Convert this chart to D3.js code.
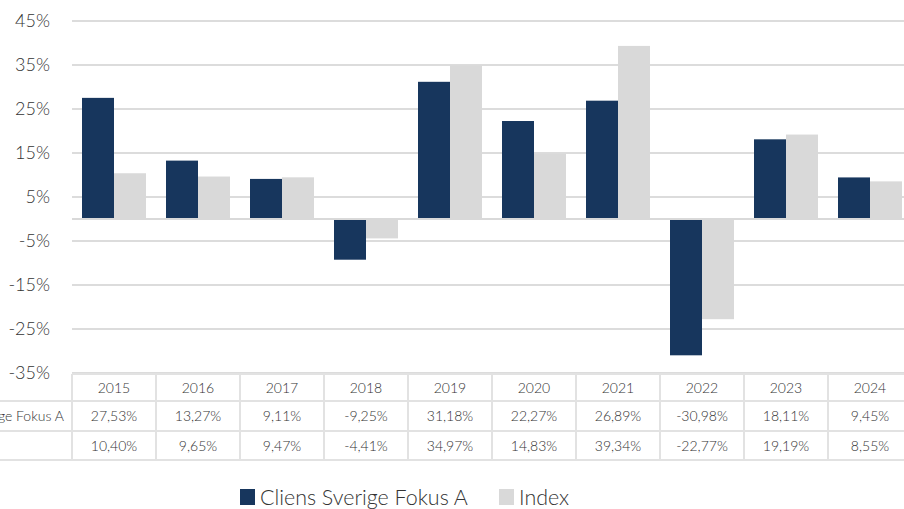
<!DOCTYPE html>
<html><head><meta charset="utf-8">
<script src="https://cdn.jsdelivr.net/npm/d3@7"></script>
<style>
html,body{margin:0;padding:0;background:#fff;overflow:hidden}
svg{display:block;font-family:Lato,"Noto Sans",sans-serif;font-weight:300}
</style></head><body>
<svg id="c" width="904" height="509"></svg>
<script>
const years = ["2015","2016","2017","2018","2019","2020","2021","2022","2023","2024"];
const seriesNames = ["Cliens Sverige Fokus A","Index"];
const fund = [27.53,13.27,9.11,-9.25,31.18,22.27,26.89,-30.98,18.11,9.45];
const index = [10.40,9.65,9.47,-4.41,34.97,14.83,39.34,-22.77,19.19,8.55];
const tickValues = [-35,-25,-15,-5,5,15,25,35,45];
const colors = ["#17365d","#d9d9d9"];

const svg = d3.select("#c");
const textCol = "#333333";
const y = d3.scaleLinear().domain([-35,45]).range([373,21]);
const x = d3.scaleBand().domain(years).range([72,912]).paddingInner(0).paddingOuter(0);
const x1 = d3.scaleBand().domain(seriesNames).range([0,x.bandwidth()]).paddingInner(0).paddingOuter(0.3125);
const fmt = v => d3.format(".2f")(v).replace(".",",").replace("\u2212","-") + "%";

// gridlines
svg.append("g").selectAll("line").data(tickValues).join("line")
  .attr("x1",72).attr("x2",904).attr("y1",d=>y(d)).attr("y2",d=>y(d))
  .attr("stroke","#d0d0d0").attr("stroke-width",1.3);

// y labels
svg.append("g").selectAll("text").data(tickValues).join("text")
  .attr("x",50).attr("y",d=>y(d)).attr("dy","0.36em").attr("text-anchor","end")
  .attr("font-size",18).attr("fill",textCol).text(d=>d+"%");

// bars
const data = [fund,index];
data.forEach((vals,si)=>{
  svg.append("g").selectAll("rect").data(vals).join("rect")
    .attr("x",(d,i)=>x(years[i])+x1(seriesNames[si]))
    .attr("width",x1.bandwidth())
    .attr("y",d=>Math.min(y(d),y(0)))
    .attr("height",d=>Math.abs(y(d)-y(0)))
    .attr("fill",colors[si]);
});

// zero axis
svg.append("line").attr("x1",72).attr("x2",904).attr("y1",y(0)).attr("y2",y(0))
  .attr("stroke","#d9d9d9").attr("stroke-width",2);

// table
const rowY = [374,401,431,460];
const tg = svg.append("g");
const lc = "#e2e2e2";
tg.append("line").attr("x1",72).attr("x2",904).attr("y1",rowY[0]).attr("y2",rowY[0]).attr("stroke",lc).attr("stroke-width",2);
[1,2,3].forEach(r=>tg.append("line").attr("x1",0).attr("x2",904).attr("y1",rowY[r]).attr("y2",rowY[r]).attr("stroke",lc).attr("stroke-width",2));
years.forEach(yr=>{
  tg.append("line").attr("x1",x(yr)).attr("x2",x(yr)).attr("y1",rowY[0]).attr("y2",rowY[3]).attr("stroke",lc).attr("stroke-width",2);
});
tg.selectAll("text.h").data(years).join("text").attr("class","h")
  .attr("x",d=>x(d)+x.bandwidth()/2).attr("y",(rowY[0]+rowY[1])/2).attr("dy","0.36em")
  .attr("text-anchor","middle").attr("font-size",14).attr("fill",textCol).text(d=>d);
data.forEach((vals,si)=>{
  const cy = (rowY[si+1]+rowY[si+2])/2;
  tg.append("g").selectAll("text").data(vals).join("text")
    .attr("x",(d,i)=>x(years[i])+x.bandwidth()/2).attr("y",cy).attr("dy","0.36em")
    .attr("text-anchor","middle").attr("font-size",14).attr("fill",textCol).text(d=>fmt(d));
});
// row labels (left column, cut off at the left edge as in the reference)
const lbl1 = tg.append("text").attr("x",64).attr("y",(rowY[1]+rowY[2])/2).attr("dy","0.36em")
  .attr("text-anchor","end").attr("font-size",14).attr("fill",textCol).text(seriesNames[0]);
const startX = 64 - lbl1.node().getComputedTextLength();
tg.append("text").attr("x",startX).attr("y",(rowY[2]+rowY[3])/2).attr("dy","0.36em")
  .attr("font-size",14).attr("fill",textCol).text(seriesNames[1]);

// legend
const lg = svg.append("g");
const legX = [240,499];
const texts = [];
seriesNames.forEach((n,i)=>{
  lg.append("rect").attr("x",legX[i]).attr("y",489).attr("width",15).attr("height",16).attr("fill",colors[i]);
  texts.push(lg.append("text").attr("x",legX[i]+20).attr("y",505).attr("font-size",23).attr("fill",textCol).text(n));
});
const w0 = texts[0].node().getComputedTextLength();
const fs = 23*208/w0;
texts.forEach(t=>t.attr("font-size",fs));
</script></body></html>
